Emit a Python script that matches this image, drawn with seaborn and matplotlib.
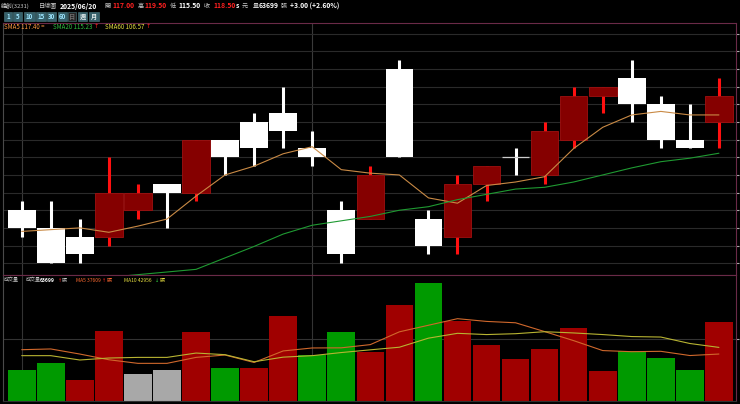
import numpy as np
import pandas as pd
import matplotlib
matplotlib.use("Agg")
import matplotlib.pyplot as plt
import seaborn as sns
from matplotlib.patches import Rectangle

# daily bars of 緯創(3231), last bar is 2025/06/20
opens  = [112, 111, 110.5, 110.5, 112, 113.5, 113, 116, 117, 117.5, 115.5, 112, 111.5,
          120, 111.5, 110.5, 113.5, 115, 114, 116, 118.5, 119.5, 118, 116, 117]
highs  = [112.5, 112.5, 111.5, 115, 113.5, 113.5, 116, 116, 117.5, 119, 116.5, 112.5, 114.5,
          120.5, 112, 114, 114.5, 115.5, 117, 119, 119, 120.5, 118.5, 118, 119.5]
lows   = [110.5, 109, 109, 110, 111.5, 111, 112.5, 114, 114.5, 115.5, 114.5, 109, 111.5,
          115, 109.5, 109.5, 112.5, 114, 113.5, 115.5, 117.5, 117, 115.5, 115.5, 115.5]
closes = [111, 109, 109.5, 113, 113, 113, 116, 115, 115.5, 116.5, 115, 109.5, 114,
          115, 110, 113.5, 114.5, 115, 116.5, 118.5, 119, 118, 116, 115.5, 118.5]

# moving averages as drawn on the chart
sma5  = [110.8, 110.9, 111.0, 110.75, 111.1, 111.5, 112.8, 114.0, 114.5, 115.2, 115.6, 114.3, 114.1,
         114.0, 112.7, 112.4, 113.4, 113.6, 113.9, 115.5, 116.7, 117.4, 117.6, 117.4, 117.4]
sma20 = [107.6, 107.8, 108.0, 108.2, 108.35, 108.5, 108.65, 109.3, 109.95, 110.65, 111.15, 111.4, 111.65,
         112.0, 112.2, 112.6, 112.9, 113.2, 113.3, 113.6, 114.0, 114.4, 114.75, 114.95, 115.23]
sma60_last = 106.57

# volume (張) and its direction colour class
volumes = [25000, 30600, 16900, 55900, 21800, 25000, 55100, 26000, 26000, 68300, 37100, 55600, 38900,
           77400, 94900, 63900, 44600, 33300, 41900, 58300, 24200, 40100, 34700, 25000, 63699]
vol_dir = ["down", "down", "up", "up", "flat", "flat", "up", "down", "up", "up", "down", "down", "up",
           "up", "down", "up", "up", "up", "up", "up", "up", "down", "down", "down", "up"]
vol_ma5  = [41100, 41700, 37600, 33000, 30100, 30100, 34900, 36800, 30800, 40100, 42500, 42600, 45200,
            55500, 60800, 66100, 63900, 62800, 55700, 48400, 40400, 39500, 39800, 36400, 37609]
vol_ma10 = [36300, 36300, 32800, 34400, 34900, 34900, 38400, 37100, 31400, 35100, 36300, 38800, 41000,
            43100, 50400, 54300, 53300, 54000, 55600, 54600, 53300, 51700, 51300, 46100, 42956]

sns.set_theme(style="dark", rc={"axes.facecolor": "black", "figure.facecolor": "black",
                                "axes.edgecolor": "#6a2a48", "axes.linewidth": 0.8})
plt.rcParams['font.family'] = ['Noto Sans CJK TC', 'DejaVu Sans']

W, H = 740, 404
fig = plt.figure(figsize=(W / 100, H / 100), dpi=100)

def fx(px):   # pixel -> figure fraction (x)
    return px / W

def fy(py):   # pixel from top -> figure fraction (y)
    return 1 - py / H

ax = fig.add_axes([fx(3), fy(275), fx(733), 252 / H])     # price panel
axv = fig.add_axes([fx(3), fy(401), fx(733), 126 / H])    # volume panel

df = pd.DataFrame(dict(o=opens, h=highs, l=lows, c=closes))
df["x"] = np.arange(len(df))
up = df.c > df.o
flat = df.c == df.o
dn = ~up & ~flat
body_lo = np.minimum(df.o, df.c)
body_h = (df.c - df.o).abs()

# wicks first, bodies on top
ax.vlines(df.x[up], df.l[up], df.h[up], color="#ff1010", lw=2.2, zorder=2)
ax.vlines(df.x[~up], df.l[~up], df.h[~up], color="white", lw=2.2, zorder=2)
ax.bar(df.x[up], body_h[up], bottom=body_lo[up], width=0.95, color="#850000",
       edgecolor="#a01010", linewidth=0.6, zorder=3)
ax.bar(df.x[dn], body_h[dn], bottom=body_lo[dn], width=0.95, color="white", linewidth=0, zorder=3)
ax.hlines(df.o[flat], df.x[flat] - 0.475, df.x[flat] + 0.475, color="#cccccc", lw=0.9, zorder=3)

sns.lineplot(x=df.x, y=sma5, ax=ax, color="#c98a45", lw=0.8, zorder=4)
sns.lineplot(x=df.x, y=sma20, ax=ax, color="#1f9a32", lw=0.8, zorder=4)

ax.set_xlim(-0.644, 24.588)
ax.set_ylim(108.33, 122.61)
ax.set_yticks(np.arange(109, 123))
ax.set_xticks([0, 10])
ax.grid(True, axis="y", color="#2a2a2a", lw=0.8)
ax.grid(True, axis="x", color="#3a3a3a", lw=0.8)
ax.set_axisbelow(True)
ax.set_xlabel("")
ax.set_ylabel("")
ax.tick_params(axis="x", length=0, labelbottom=False)
ax.tick_params(axis="y", left=False, right=True, length=2, width=0.8, color="#aaaaaa",
               labelleft=False, labelright=False)

# volume bars
vdf = pd.DataFrame(dict(x=np.arange(len(volumes)), vol=volumes, dir=vol_dir))
vol_pal = {"up": "#a00000", "down": "#009a00", "flat": "#a8a8a8"}
sns.barplot(data=vdf, x="x", y="vol", hue="dir", palette=vol_pal, native_scale=True, dodge=False,
            width=0.95, saturation=1, errorbar=None, legend=False, linewidth=0, ax=axv)
sns.lineplot(x=vdf.x, y=vol_ma5, ax=axv, color="#d0682c", lw=0.8, zorder=4)
sns.lineplot(x=vdf.x, y=vol_ma10, ax=axv, color="#b8b432", lw=0.8, zorder=4)

axv.set_xlim(-0.644, 24.588)
axv.set_ylim(-240, 101300)
axv.set_yticks([50000])
axv.set_xticks([0, 10])
axv.grid(True, axis="both", color="#333333", lw=0.8)
axv.set_axisbelow(True)
axv.set_xlabel("")
axv.set_ylabel("")
axv.tick_params(axis="x", length=0, labelbottom=False)
axv.tick_params(axis="y", left=False, right=True, length=2, width=0.8, color="#aaaaaa",
                labelleft=False, labelright=False)

for a in (ax, axv):
    a.spines["left"].set_color("#4a4a4a")
    a.spines["right"].set_color("#6a2a48")
    a.spines["top"].set_color("#6a2a48")
axv.spines["bottom"].set_color("#303030")

# header texts
def put(xp, yp, s, color, size=4.4, weight="normal", ha="left", family=None):
    kw = {} if family is None else {"family": family}
    fig.text(fx(xp), fy(yp), s, color=color, fontsize=size, fontweight=weight, ha=ha, va="center", **kw)

gray = "#c8c8c8"
red = "#ff2020"
arrow_font = "DejaVu Sans"
chg = closes[-1] - closes[-2]
put(1, 6, "緯創(3231)", gray, 4.2)
put(39, 6, "日線圖", gray)
put(60, 6, "2025/06/20", "white", 4.9, "bold")
put(104, 6, "開", gray)
put(112, 6, f"{opens[-1]:.2f}", red, 4.9, "bold")
put(137.5, 6, "高", gray)
put(144, 6, f"{highs[-1]:.2f}", red, 4.9, "bold")
put(170, 6, "低", gray)
put(178, 6, f"{lows[-1]:.2f}", "white", 4.9, "bold")
put(204, 6, "收", gray)
put(213, 6, f"{closes[-1]:.2f}", red, 4.9, "bold")
put(236, 6, "s", "white", 4.9, "bold")
put(242, 6, "元", gray)
put(253, 6, "量", gray)
put(259, 6, f"{volumes[-1]}", "white", 4.9, "bold")
put(281, 6, "張", gray)
put(290, 6, f"{chg:+.2f} ({chg / closes[-2] * 100:+.2f}%)", "white", 4.9, "bold")

# period buttons
buttons = [("1", 4, 12), ("5", 13, 22), ("10", 24, 35), ("15", 36, 46), ("30", 47, 56),
           ("60", 58, 67), ("日", 68, 76), ("週", 78, 87), ("月", 89, 99)]
for lab, x0, x1 in buttons:
    face = "#262626" if lab == "日" else "#36606a"
    txt = "#707070" if lab == "日" else ("#9fe6ff" if lab.isdigit() else "#e8f0f0")
    fig.add_artist(Rectangle((fx(x0), fy(21)), fx(x1 - x0), 9 / H, transform=fig.transFigure,
                             facecolor=face, edgecolor="#4c7880", linewidth=0.4))
    put((x0 + x1) / 2, 16.5, lab, txt, 4.4, "bold", ha="center")

# moving average legend
put(4, 27, f"SMA5 {sma5[-1]:.2f} =", "#ff9a40", 4.4)
put(53, 27, f"SMA20 {sma20[-1]:.2f}", "#30c040", 4.4)
put(94, 27, "↑", red, 4.4, family=arrow_font)
put(105, 27, f"SMA60 {sma60_last:.2f}", "#e8e040", 4.4)
put(146, 27, "↑", red, 4.4, family=arrow_font)

# volume legend
put(4, 280, "成交量", gray, 3.6)
put(26, 280, "成交量", gray, 3.6)
put(40, 280, f"{volumes[-1]}", "white", 3.6, "bold")
put(57.5, 280, "↑", red, 3.6, family=arrow_font)
put(62, 280, "張", gray, 3.6)
put(76, 280, f"MA5 {vol_ma5[-1]}", "#ff6a30", 3.6)
put(102, 280, "↑", red, 3.6, family=arrow_font)
put(106.5, 280, "張", "#ff6a30", 3.6)
put(124, 280, f"MA10 {vol_ma10[-1]}", "#e8e040", 3.6)
put(155, 280, "↓", "#30d040", 3.6, family=arrow_font)
put(159.5, 280, "張", "#e8e040", 3.6)

fig.savefig("out.png", dpi=100, facecolor="black")
